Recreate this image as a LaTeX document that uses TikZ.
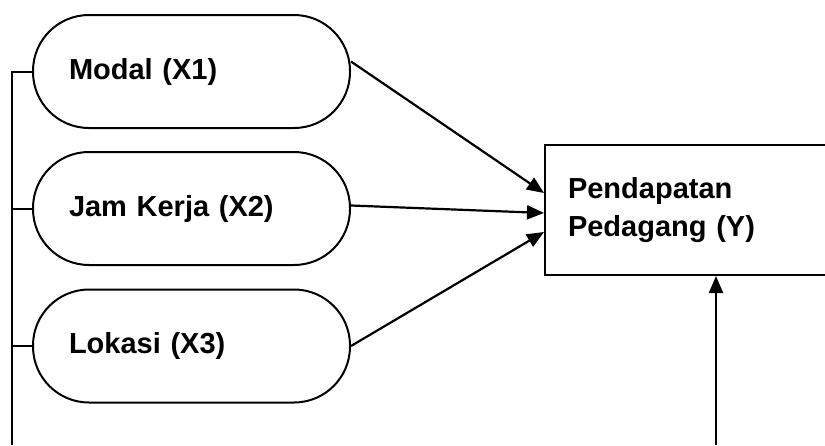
\documentclass[tikz,border=0pt]{standalone}
\usepackage{fontspec}
\setmainfont{Liberation Sans}
\usetikzlibrary{arrows.meta}
\tikzset{
  varbox/.style={draw, line width=2pt, rounded corners=56pt,
    minimum width=317pt, minimum height=113pt, text width=245pt,
    inner xsep=36pt, align=left, font=\bfseries\fontsize{29}{38}\selectfont},
  ybox/.style={draw, line width=2pt, minimum width=300pt,
    minimum height=130pt, text width=254pt, inner xsep=23pt,
    align=left, font=\bfseries\fontsize{29}{38}\selectfont},
  arr/.style={line width=2.2pt, -{Triangle[length=17pt,width=14pt]}},
}
\begin{document}
\begin{tikzpicture}[x=1pt,y=-1pt]
        %% frame
        \clip (0,0) rectangle (825,445);
        \fill[white] (0,0) rectangle (825,445);
        %% variables
        \node[varbox] (modal) at (191.5,71.5) {Modal (X1)};
        \node[varbox] (jam) at (191.5,208.5) {Jam Kerja (X2)};
        \node[varbox] (lokasi) at (191.5,346) {Lokasi (X3)};
        \node[ybox] (pend) at (695,210) {Pendapatan\\Pedagang (Y)};
        %% arrows
        \draw[arr] ([yshift=10pt]modal.east) -- ([yshift=17pt]pend.west);
        \draw[arr] ([yshift=3pt]jam.east) -- ([yshift=-3pt]pend.west);
        \draw[arr] (lokasi.east) -- ([yshift=-22pt]pend.west);
        %% left line
        \coordinate (bus) at (12,445);
        \draw[line width=2pt] (bus) |- (modal.west);
        \draw[line width=2pt] (jam.west) -- (jam.west -| bus);
        \draw[line width=2pt] (lokasi.west) -- (lokasi.west -| bus);
        %% bottom arrow
        \coordinate (foot) at (716,445);
        \draw[arr] (foot) -- (foot |- pend.south);
    \end{tikzpicture}
\end{document}
